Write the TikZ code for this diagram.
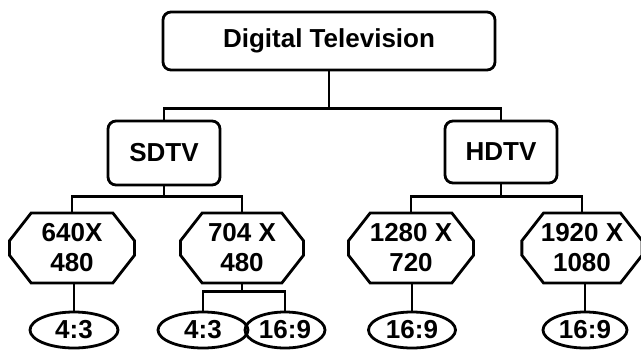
\documentclass[tikz,border=0pt]{standalone}
\usepackage{fontspec}
\setmainfont{Liberation Sans}
\usetikzlibrary{shapes.geometric,shapes.misc}

\begin{document}
\begin{tikzpicture}[x=1pt,y=-1pt,line width=2.8pt,
  every node/.style={font=\fontsize{26}{30}\selectfont\bfseries},
  rbox/.style={draw,rounded corners=8pt,inner sep=0pt},
  resbox/.style={draw,chamfered rectangle,chamfered rectangle angle=38,
    chamfered rectangle xsep=26pt,align=center,inner sep=0pt,
    minimum width=123pt,minimum height=70pt},
  ratio/.style={draw,ellipse,inner sep=0pt,minimum height=36pt}]
  \useasboundingbox (0,0) rectangle (641,357);
  % levels: standard, format, resolution, aspect ratio
  \node[rbox,minimum width=332pt,minimum height=58pt] (dtv) at (329,41) {Digital Television};
  \node[rbox,minimum width=112pt,minimum height=64pt] (sdtv) at (164,153) {SDTV};
  \node[rbox,minimum width=112pt,minimum height=62pt] (hdtv) at (501,152) {HDTV};
  \node[resbox,minimum width=125pt] (r640) at (72,248) {640X\\480};
  \node[resbox] (r704) at (242,248) {704 X\\480};
  \node[resbox,minimum width=125pt] (r1280) at (411,248) {1280 X\\720};
  \node[resbox,minimum width=117pt] (r1920) at (582,248) {1920 X\\1080};
  \node[ratio,minimum width=88pt] (a640) at (74,330) {4:3};
  \node[ratio,minimum width=90pt] (a704s) at (203,330) {4:3};
  \node[ratio,minimum width=80pt] (a704w) at (285,330) {16:9};
  \node[ratio,minimum width=87pt] (a1280) at (412,330) {16:9};
  \node[ratio,minimum width=84pt] (a1920) at (585,330) {16:9};
  % branches
  \draw (dtv.south) -- ++(0,37) coordinate (dtvj);
  \draw (sdtv.north) |- (dtvj) -| (hdtv.north);
  \draw (sdtv.south) -- ++(0,10) coordinate (sdtvj);
  \draw (r640.north) |- (sdtvj) -| (r704.north);
  \draw (hdtv.south) -- ++(0,12) coordinate (hdtvj);
  \draw (r1280.north) |- (hdtvj) -| (r1920.north);
  \draw (a640.north) -- (a640.north |- r640.south);
  \draw (r704.south) -- ++(0,7) coordinate (r704j);
  \draw (a704s.north) |- (r704j) -| (a704w.north);
  \draw (a1280.north) -- (a1280.north |- r1280.south);
  \draw (a1920.north) -- (a1920.north |- r1920.south);
\end{tikzpicture}
\end{document}
